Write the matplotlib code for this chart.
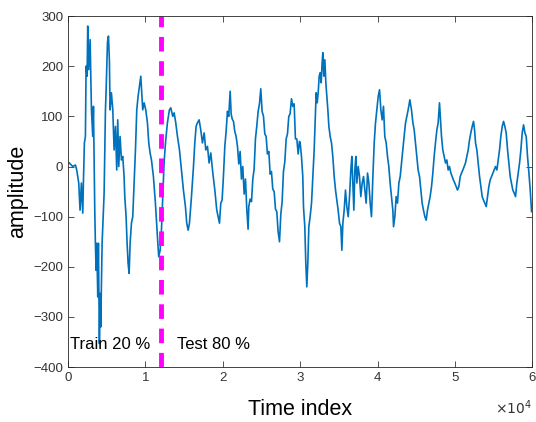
import matplotlib
matplotlib.use("Agg")
import matplotlib.pyplot as plt
import numpy as np

plt.rcParams['font.family'] = ['Liberation Sans', 'DejaVu Sans']

# time index in thousands, amplitude
t_train = [0.17, 0.60, 0.95, 1.12, 1.38, 1.55, 1.72, 1.90, 1.98, 2.11, 2.24, 2.33, 2.46, 2.54, 2.67,
           2.85, 3.02, 3.19, 3.28, 3.45, 3.53, 3.62, 3.71, 3.84, 3.92, 4.05, 4.14, 4.22, 4.40, 4.57,
           4.66, 4.83, 4.91, 5.09, 5.22, 5.34, 5.43, 5.60, 5.78, 5.95, 6.12, 6.29, 6.42, 6.55, 6.72,
           6.90, 7.07, 7.24, 7.33, 7.50, 7.63, 7.76, 7.89, 8.02, 8.19, 8.36, 8.53, 8.71, 8.88, 9.05,
           9.22, 9.40, 9.53, 9.65, 9.83, 10.04, 10.26, 10.43, 10.60, 10.78, 11.03, 11.29, 11.55,
           11.72, 11.90]
amp_train = [7, 0, 3, -7, -33, -87, -33, -93, -33, 47, 60, 200, 180, 280, 193,
             253, 113, 60, 120, -87, -153, -207, -153, -260, -153, -353, -253, -320, -153, -87,
             -53, 113, 147, 247, 260, 213, 113, 147, 113, 33, 80, -7, 93, 0, 60,
             13, 20, -20, -60, -100, -153, -193, -213, -153, -113, -100, -33, 33, 113, 140,
             160, 180, 147, 113, 127, 113, 87, 47, 27, 13, -20, -73, -140,
             -180, -167]

t_mid = [12.07, 12.24, 12.41, 12.59, 12.84, 13.10, 13.28, 13.53, 13.71, 13.92, 14.14, 14.40, 14.65,
         14.91, 15.17, 15.34, 15.52, 15.69, 15.95, 16.21, 16.38, 16.55, 16.72, 16.94, 17.15, 17.37,
         17.59, 17.80, 18.02, 18.23, 18.45, 18.71, 18.97, 19.22, 19.40, 19.57, 19.74, 19.91,
         20.08, 20.26, 20.43, 20.60, 20.77, 20.95, 21.08, 21.21, 21.38, 21.55, 21.72, 21.90, 22.07,
         22.24, 22.41, 22.58, 22.76, 22.93, 23.10, 23.27, 23.36, 23.53, 23.71, 23.88, 24.05, 24.22,
         24.39, 24.57, 24.74, 24.91, 25.08, 25.26, 25.43, 25.60, 25.77, 25.95, 26.12, 26.29, 26.46,
         26.64, 26.81, 26.98, 27.15, 27.33, 27.50, 27.67, 27.84, 28.02, 28.19, 28.36, 28.53, 28.70,
         28.88, 29.05, 29.22, 29.39, 29.57, 29.74, 29.91,
         30.00, 30.17, 30.34, 30.43, 30.60, 30.73, 30.86, 30.99, 31.12, 31.29, 31.47, 31.64, 31.81,
         31.94, 32.07, 32.20, 32.33, 32.46, 32.59, 32.72, 32.84, 32.93, 33.06, 33.19, 33.32, 33.45,
         33.58, 33.71, 33.88, 34.05, 34.22, 34.40, 34.57, 34.74, 34.91, 35.09, 35.26, 35.39, 35.52,
         35.69, 35.86, 36.03, 36.21, 36.38, 36.55, 36.68, 36.81, 36.94, 37.07, 37.20, 37.33, 37.50,
         37.67, 37.84, 38.02, 38.19, 38.36, 38.53, 38.71, 38.88, 39.05, 39.22, 39.40, 39.57, 39.74,
         39.91]
amp_mid = [-127, -60, 7, 47, 87, 113, 117, 100, 107, 87, 60, 33, -7,
           -47, -80, -113, -127, -113, -60, 0, 47, 80, 87, 93, 73, 47,
           67, 33, 40, 7, 27, -13, -47, -87, -100, -113, -73, -67,
           -20, 40, 70, 110, 100, 150, 105, 95, 90, 70, 60, 40, 5,
           30, -25, 0, -55, -25, -85, -125, -80, -65, -70, -25, -5, 55,
           80, 110, 125, 155, 110, 100, 65, 60, 25, 30, -15, -10, -45,
           -50, -85, -90, -130, -150, -95, -70, -10, 10, 55, 65, 100, 105,
           135, 120, 125, 55, 55, 25, 50,
           47, 20, -20, -80, -120, -193, -240, -193, -120, -100, -73, -20, 33,
           93, 147, 127, 147, 180, 187, 167, 207, 227, 180, 213, 167, 140,
           113, 80, 60, 47, 20, -20, -47, -67, -87, -113, -120, -167, -113,
           -87, -47, -80, -100, -60, -7, 20, -33, -87, -7, 20, -33, 0,
           -20, -60, -33, -20, -47, -73, -13, -33, -73, -100, -20, 47, 87,
           113]

t_late = [40.09, 40.26, 40.43, 40.60, 40.77, 40.94, 41.12, 41.29, 41.46, 41.63, 41.81, 41.98, 42.07,
          42.24, 42.41, 42.58, 42.76, 42.93, 43.10, 43.27, 43.44, 43.62, 43.79, 43.96, 44.18, 44.39,
          44.57, 44.74, 44.91, 45.08, 45.25, 45.43, 45.60, 45.77, 45.94, 46.12, 46.29, 46.46, 46.63,
          46.80, 46.98, 47.15, 47.32, 47.49, 47.67, 47.84, 48.01, 48.14, 48.27, 48.44, 48.61, 48.79,
          48.96, 49.13, 49.30, 49.48, 49.65, 49.81, 49.99, 50.16, 50.34, 50.51, 50.69, 50.86, 51.03,
          51.20, 51.37, 51.55, 51.72, 51.89, 52.06, 52.24, 52.41, 52.54, 52.67, 52.84, 53.01, 53.19,
          53.36, 53.53, 53.70, 53.87, 54.05, 54.22, 54.39, 54.56, 54.74, 54.91, 55.08, 55.25, 55.43,
          55.60, 55.77, 55.94, 56.12, 56.29, 56.46, 56.63, 56.81, 56.98, 57.15, 57.32, 57.49, 57.67,
          57.84, 58.01, 58.18, 58.36, 58.53, 58.70, 58.88, 59.05, 59.22, 59.39, 59.57, 59.74, 59.91]
amp_late = [140, 153, 113, 93, 120, 60, 47, 20, 0, -33, -60, -87, -120,
            -100, -60, -73, -33, -20, 7, 33, 60, 87, 100, 113, 133, 113,
            87, 73, 47, 20, -7, -20, -47, -73, -87, -100, -107, -87, -73,
            -60, -40, -13, 20, 47, 73, 87, 127, 93, 60, 33, 20, 7,
            13, -7, 0, -13, -20, -27, -33, -40, -47, -40, -20, -13, -7,
            0, 7, 20, 33, 53, 67, 80, 90, 73, 47, 33, 7, -20,
            -40, -60, -67, -73, -80, -60, -40, -27, -20, -13, -7, 0, -7,
            13, 33, 60, 80, 90, 80, 67, 33, 7, -20, -33, -47, -53,
            -60, -33, -13, 7, 33, 67, 83, 67, 60, 20, -13, -47, -90]

split_at = 12000
train_label = "Train 20 %"
test_label = "Test 80 %"

t = np.array(t_train + t_mid + t_late) * 1000
amp = np.array(amp_train + amp_mid + amp_late)

fig = plt.figure(figsize=(5.36, 4.22), dpi=100)
ax = fig.add_axes([0.127, 0.130, 0.866, 0.832])

ax.plot(t, amp, color='#0072BD', linewidth=1.2)
ax.axvline(split_at, color='#FF00FF', linewidth=3.5, linestyle=(0, (3, 2)))

ax.set_xlim(0, 60000)
ax.set_ylim(-400, 300)
ax.set_xticks(np.arange(0, 60001, 10000))
ax.set_xticklabels([str(i) for i in range(7)])
ax.set_yticks(np.arange(-400, 301, 100))

ax.tick_params(direction='in', top=True, right=True, labelsize=9.5,
               colors='#333333', length=4, width=0.6)
for s in ax.spines.values():
    s.set_color('#262626')
    s.set_linewidth(0.6)

ax.text(300, -355, train_label, fontsize=12, va='center', ha='left')
ax.text(14100, -355, test_label, fontsize=12, va='center', ha='left')

ax.set_xlabel("Time index", fontsize=15.5, labelpad=11)
ax.set_ylabel("amplitude", fontsize=15.5, labelpad=4)
ax.text(1.0, -0.115, r"$\times10^4$", transform=ax.transAxes, fontsize=10,
        color='#333333', ha='right', va='center')

fig.savefig("out.png", dpi=100, facecolor='white')
